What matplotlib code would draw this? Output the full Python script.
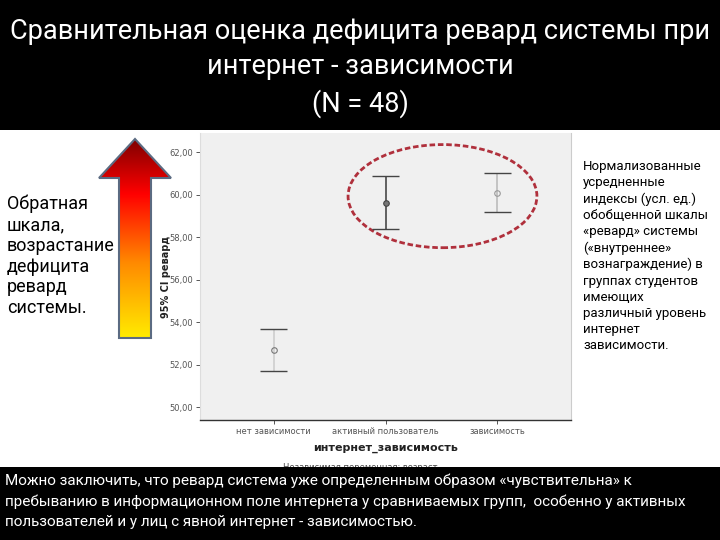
import numpy as np
import matplotlib
matplotlib.use("Agg")
import matplotlib.pyplot as plt
from matplotlib.patches import Ellipse, Polygon, Rectangle
from matplotlib.colors import LinearSegmentedColormap
from matplotlib.ticker import FuncFormatter

# данные
groups = ["нет зависимости", "активный пользователь", "зависимость"]
means = [52.7, 59.6, 60.1]
ci_hi = [53.7, 60.9, 61.0]
ci_lo = [51.7, 58.4, 59.2]
yticks = [50, 52, 54, 56, 58, 60, 62]

title = "Сравнительная оценка дефицита ревард системы при\nинтернет - зависимости\n(N = 48)"
left_note = "Обратная\nшкала,\nвозрастание\nдефицита\nревард\nсистемы."
right_note = ("Нормализованные\nусредненные\nиндексы (усл. ед.)\nобобщенной шкалы\n"
              "«ревард» системы\n(«внутреннее»\nвознаграждение) в\nгруппах студентов\n"
              "имеющих\nразличный уровень\nинтернет\nзависимости.")
bottom_note = ["Можно заключить, что ревард система уже определенным образом «чувствительна» к",
               "пребыванию в информационном поле интернета у сравниваемых групп,  особенно у активных",
               "пользователей и у лиц с явной интернет - зависимостью."]

W, H = 720, 540
fam = ["Roboto", "DejaVu Sans"]

fig = plt.figure(figsize=(7.2, 5.4), dpi=100, facecolor="white")

def fx(px):
    return px / W

def fy(py):
    return 1 - py / H

# основной график
ax = fig.add_axes([fx(200), fy(420), fx(571) - fx(200), fy(133) - fy(420)])
ax.set_facecolor("#f0f0f0")
x = np.arange(len(groups))
line_cols = ["#d0d0d0", "#555555", "#c0c0c0"]
mark_face = ["none", "#777777", "none"]
mark_edge = ["#777777", "#444444", "#999999"]
for i in range(len(groups)):
    ax.vlines(x[i], ci_lo[i], ci_hi[i], color=line_cols[i], lw=1.3)
    ax.hlines([ci_lo[i], ci_hi[i]], x[i] - 0.12, x[i] + 0.12, color="#444444", lw=1.0)
    ax.plot(x[i], means[i], "o", ms=4, mfc=mark_face[i], mec=mark_edge[i], mew=0.8)

ax.add_patch(Ellipse((1.51, 59.93), 1.69, 4.85, fill=False, ec="#b0303c", lw=2.0, ls=(0, (2, 1))))

ax.set_xlim(-0.66, 2.66)
ax.set_ylim(49.4, 62.9)
ax.set_yticks(yticks)
ax.yaxis.set_major_formatter(FuncFormatter(lambda v, p: f"{v:.2f}".replace(".", ",")))
ax.set_xticks(x)
ax.set_xticklabels(groups)
ax.tick_params(axis="both", labelsize=6, colors="#555555", length=3, width=0.7, pad=2)
for lab in ax.get_xticklabels() + ax.get_yticklabels():
    lab.set_color("#555555")
ax.spines["top"].set_visible(False)
ax.spines["bottom"].set_color("#333333")
ax.spines["bottom"].set_linewidth(1.0)
ax.spines["left"].set_color("#dddddd")
ax.spines["right"].set_color("#cccccc")
ax.set_xlabel("интернет_зависимость", fontsize=8, fontweight="bold", color="#222222", labelpad=5)
ax.set_ylabel("95% CI ревард", fontsize=7, fontweight="bold", color="#222222")
ax.yaxis.set_label_coords((171 - 200) / 371, 0.5)

# стрелка с градиентом
ax2 = fig.add_axes([fx(98), fy(341), fx(174) - fx(98), fy(136) - fy(341)])
ax2.set_xlim(98, 174)
ax2.set_ylim(341, 136)
ax2.axis("off")
cmap = LinearSegmentedColormap.from_list("arr", [(0, "#7a0000"), (0.28, "#ff0000"),
                                                  (0.62, "#ff8a00"), (1, "#ffee00")])
grad = np.linspace(0, 1, 256).reshape(-1, 1)
im = ax2.imshow(grad, cmap=cmap, extent=[98, 174, 340, 138], aspect="auto")
pts = [(135, 139), (171, 178), (151, 178), (151, 338), (119, 338), (119, 178), (99, 178)]
poly = Polygon(pts, closed=True, fill=False, ec="#5b6b82", lw=1.5)
ax2.add_patch(poly)
im.set_clip_path(poly)

# тексты
fig.text(fx(7), fy(256), left_note, fontsize=13, family=fam, va="center", ha="left",
         linespacing=1.2)

fig.text(fx(583), fy(256), right_note, fontsize=9.5, family=fam, va="center", ha="left",
         linespacing=1.32)

fig.text(fx(360), fy(468), "Независимая переменная: возраст", fontsize=6, color="#444444",
         ha="center", va="center", zorder=1)

# чёрные полосы
fig.add_artist(Rectangle((0, fy(130)), 1, 1 - fy(130), transform=fig.transFigure,
                         fc="black", ec="none", zorder=5))
fig.add_artist(Rectangle((0, 0), 1, fy(467), transform=fig.transFigure,
                         fc="black", ec="none", zorder=5))

fig.text(0.5, fy(68), title, fontsize=19.5, family=fam, color="white", ha="center",
         va="center", linespacing=1.4, zorder=6)

for k, line in enumerate(bottom_note):
    fig.text(fx(5), fy(481 + k * 20.5), line, fontsize=11, family=fam, color="white",
             ha="left", va="center", zorder=6)

fig.savefig("out.png", dpi=100, facecolor="white")
